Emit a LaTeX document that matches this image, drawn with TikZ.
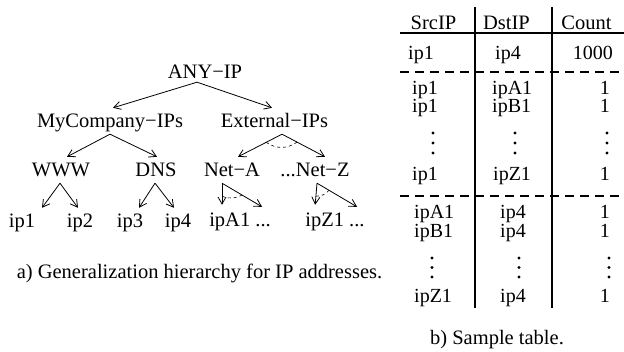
\documentclass[tikz,border=0pt]{standalone}
\usepackage{fontspec}
\setmainfont{Liberation Serif}
\usetikzlibrary{arrows.meta}

\tikzset{
  lbl/.style={inner sep=1.5pt, text height=18.5pt, text depth=4.5pt, anchor=base},
  cell/.style={inner sep=0pt, anchor=base west},
  cellr/.style={inner sep=0pt, anchor=base east},
  cellc/.style={inner sep=0pt, anchor=base},
  edge/.style={-{Straight Barb[length=7pt,width=8pt]}, line width=0.8pt},
  vdot/.style={fill=black},
  rowsep/.style={line width=1.2pt, dash pattern=on 9pt off 6pt},
}

\begin{document}
\begin{tikzpicture}[x=1pt,y=-1pt,font=\fontsize{20.5}{20.5}\selectfont]
\useasboundingbox (0,0) rectangle (624,352);

% hierarchy
\node[lbl] (any)  at (205,79)  {ANY−IP};
\node[lbl] (myc)  at (110,128) {MyCompany−IPs};
\node[lbl] (ext)  at (274.5,128) {External−IPs};
\node[lbl] (www)  at (61,177)  {WWW};
\node[lbl] (dns)  at (156,177) {DNS};
\node[lbl] (neta) at (232,177) {Net−A};
\node[lbl] (netz) at (315,177) {...Net−Z};
\node[lbl] (ipa)  at (22,228)  {ip1};
\node[lbl] (ipb)  at (80,228)  {ip2};
\node[lbl] (ipc)  at (130,228) {ip3};
\node[lbl] (ipd)  at (178,228) {ip4};
\node[lbl] (ipaa) at (240,227) {ipA1 ...};
\node[lbl] (ipzz) at (335,227) {ipZ1 ...};

\draw[edge] ([xshift=-8pt,yshift=3pt]any.south) -- ([xshift=3pt]myc.north);
\draw[edge] ([xshift=-8pt,yshift=3pt]any.south) -- ([xshift=-2.5pt]ext.north);
\draw[edge] (myc.south) -- ([xshift=6pt]www.north);
\draw[edge] (myc.south) -- ([xshift=1pt]dns.north);
\draw[edge] ([xshift=7.5pt]ext.south) -- coordinate[pos=.36] (e1) ([xshift=6pt]neta.north);
\draw[edge] ([xshift=7.5pt]ext.south) -- coordinate[pos=.35] (e2) ([xshift=10pt]netz.north);
\draw[edge] ([xshift=-1pt]www.south) -- ([xshift=20pt]ipa.north);
\draw[edge] ([xshift=-1pt]www.south) -- ([xshift=-2pt]ipb.north);
\draw[edge] ([xshift=-1pt]dns.south) -- ([xshift=9pt]ipc.north);
\draw[edge] ([xshift=-1pt]dns.south) -- ([xshift=-4pt]ipd.north);
\draw[edge,shorten >=2pt] ([xshift=-10pt]neta.south) -- coordinate[pos=.55] (a1) ([xshift=-18pt]ipaa.north);
\draw[edge] ([xshift=-10pt]neta.south) -- coordinate[pos=.5] (a2) ([xshift=22pt]ipaa.north);
\draw[edge,shorten >=2pt] ([xshift=2pt]netz.south) -- coordinate[pos=.55] (z1) ([xshift=-20pt]ipzz.north);
\draw[edge] ([xshift=2pt]netz.south) -- coordinate[pos=.3] (z2) ([xshift=22pt]ipzz.north);
\draw[dashed,line width=0.6pt] (e1) to[bend right=35] (e2);
\draw[dashed,line width=0.6pt] (a1) to[bend right=25] (a2);
\draw[dashed,line width=0.6pt] (z1) to[bend right=25] (z2);

\node[cellc] (capa) at (199.5,279) {a) Generalization hierarchy for IP addresses.};

% table
\draw[line width=2pt] (475,7) -- (475,308);
\draw[line width=2pt] (552,7) -- (552,308);
\draw[line width=1.4pt] (400,33) -- (624,33);
\draw[rowsep] (400,72) -- (624,72);
\draw[rowsep] (400,196) -- (624,196);

\node[cellc] (hsrc) at (433.5,30) {SrcIP};
\node[cellc] (hdst) at (506.5,30) {DstIP};
\node[cellc] (hcnt) at (586.5,30) {Count};

\begin{scope}[font=\fontsize{20}{20}\selectfont]
\node[cell]  (r1s) at (408,60) {ip1};
\node[cell]  (r1d) at (495,60) {ip4};
\node[cellr] (r1c) at (613,60) {1000};

\node[cell]  (r2s) at (412,95)  {ip1};
\node[cell]  (r2d) at (492,95)  {ipA1};
\node[cellr] (r2c) at (610,95)  {1};
\node[cell]  (r3s) at (412,113) {ip1};
\node[cell]  (r3d) at (492,113) {ipB1};
\node[cellr] (r3c) at (610,113) {1};
\node[cell]  (r4s) at (412,181) {ip1};
\node[cell]  (r4d) at (493,181) {ipZ1};
\node[cellr] (r4c) at (610,181) {1};

\node[cell]  (r5s) at (414,219) {ipA1};
\node[cellc] (r5d) at (513,219) {ip4};
\node[cellr] (r5c) at (610,219) {1};
\node[cell]  (r6s) at (414,238) {ipB1};
\node[cellc] (r6d) at (513,238) {ip4};
\node[cellr] (r6c) at (610,238) {1};
\node[cell]  (r7s) at (414,303) {ipZ1};
\node[cellc] (r7d) at (513,303) {ip4};
\node[cellr] (r7c) at (610,303) {1};
\end{scope}
\foreach \x in {433,515,607}
  \foreach \y in {133,143,153}
    \fill[vdot] (\x,\y) circle (1.6pt);
\foreach \x in {432,519,609}
  \foreach \y in {258,267.5,277}
    \fill[vdot] (\x,\y) circle (1.6pt);

\node[cellc] (capb) at (497,345) {b) Sample table.};
\end{tikzpicture}
\end{document}
